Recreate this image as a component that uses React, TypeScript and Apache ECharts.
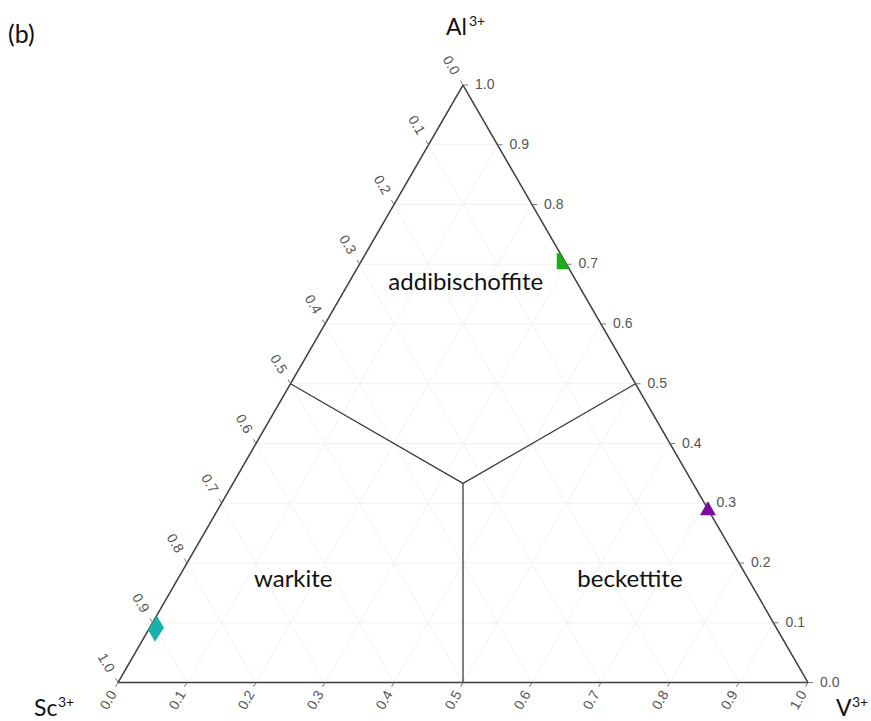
import React, { useEffect, useRef } from "react";
import * as echarts from "echarts";

// Ternary plot: fractions of Al3+ (top), V3+ (bottom right) and Sc3+ (bottom left) sum to 1.
const H = Math.sqrt(3) / 2;

const tickValues = [0, 0.1, 0.2, 0.3, 0.4, 0.5, 0.6, 0.7, 0.8, 0.9, 1.0];
const tickLabels = ["0.0", "0.1", "0.2", "0.3", "0.4", "0.5", "0.6", "0.7", "0.8", "0.9", "1.0"];
const gridValues = [0.1, 0.2, 0.3, 0.4, 0.5, 0.6, 0.7, 0.8, 0.9];

// Field boundaries: from the barycentre to the middle of each side (Al, V)
const fieldCentreAl = 1 / 3;
const fieldCentreV = 1 / 3;
const fieldSideAl = [0.5, 0.5, 0];
const fieldSideV = [0.5, 0, 0.5];

// Mineral fields and where their names sit (Al, V)
const fieldNames = ["addibischoffite", "warkite", "beckettite"];
const fieldLabelAl = [0.672, 0.176, 0.176];
const fieldLabelV = [0.168, 0.166, 0.654];

// Analysed compositions (Al, V; Sc is the remainder)
const sampleAl = [0.705, 0.29, 0.09];
const sampleV = [0.295, 0.71, 0.01];
const sampleSymbols = ["square", "triangle", "diamond"];
const sampleColors = ["#1aaf1a", "#7a0b9c", "#17b2ac"];

const toXY = (al: number, v: number) => [v + al / 2, al * H];

const LINE = "#3c3c3c";
const TICK_FONT = "14px 'Liberation Sans', Arial, sans-serif";
const TEXT_FONT_FAMILY = "Lato, 'Open Sans', sans-serif";

function clipPolygon(subject: number[][], clip: number[][]) {
  const cross = (a: number[], b: number[], p: number[]) =>
    (b[0] - a[0]) * (p[1] - a[1]) - (b[1] - a[1]) * (p[0] - a[0]);
  const cx = clip.reduce((s, p) => s + p[0], 0) / clip.length;
  const cy = clip.reduce((s, p) => s + p[1], 0) / clip.length;
  let out = subject;
  for (let i = 0; i < clip.length; i++) {
    const a = clip[i];
    const b = clip[(i + 1) % clip.length];
    const sgn = Math.sign(cross(a, b, [cx, cy]));
    const inside = (p: number[]) => cross(a, b, p) * sgn >= 0;
    const input = out;
    out = [];
    for (let j = 0; j < input.length; j++) {
      const p = input[j];
      const q = input[(j + 1) % input.length];
      const pin = inside(p);
      const qin = inside(q);
      if (pin) out.push(p);
      if (pin !== qin) {
        const dp = cross(a, b, p);
        const dq = cross(a, b, q);
        const t = dp / (dp - dq);
        out.push([p[0] + t * (q[0] - p[0]), p[1] + t * (q[1] - p[1])]);
      }
    }
  }
  return out;
}

function plainText(text: string, x: number, y: number, size: number, align = "left") {
  return {
    type: "text",
    x,
    y,
    style: {
      text,
      font: `${size}px ${TEXT_FONT_FAMILY}`,
      fill: "#111",
      align,
      verticalAlign: "middle",
      textAlign: align,
      textVerticalAlign: "middle",
    },
  };
}

function buildOption() {
  const gridLines: number[][] = [];
  gridValues.forEach((k) => {
    // constant Al
    gridLines.push([...toXY(k, 0), ...toXY(k, 1 - k)]);
    // constant V
    gridLines.push([...toXY(0, k), ...toXY(1 - k, k)]);
    // constant Sc
    gridLines.push([...toXY(0, 1 - k), ...toXY(1 - k, 0)]);
  });

  const edgeLines = [
    [...toXY(0, 0), ...toXY(0, 1)],
    [...toXY(0, 1), ...toXY(1, 0)],
    [...toXY(1, 0), ...toXY(0, 0)],
  ];

  const fieldLines = fieldSideAl.map((al, i) => [
    ...toXY(fieldCentreAl, fieldCentreV),
    ...toXY(al, fieldSideV[i]),
  ]);

  // axis 0: Al on the right side, 1: Sc on the left side, 2: V on the base
  const ticks: number[][] = [];
  tickValues.forEach((k, i) => {
    ticks.push([...toXY(k, 1 - k), 0, i]);
    ticks.push([...toXY(1 - k, 0), 1, i]);
    ticks.push([...toXY(0, k), 2, i]);
  });

  const fieldLabels = fieldNames.map((n, i) => [...toXY(fieldLabelAl[i], fieldLabelV[i]), i]);
  const samples = sampleAl.map((al, i) => [...toXY(al, sampleV[i]), i]);

  const lineRenderer = (color: string, width: number) => (params: any, api: any) => {
    const p1 = api.coord([api.value(0), api.value(1)]);
    const p2 = api.coord([api.value(2), api.value(3)]);
    return {
      type: "line",
      shape: { x1: p1[0], y1: p1[1], x2: p2[0], y2: p2[1] },
      style: { stroke: color, lineWidth: width, fill: null },
    };
  };

  const lineSeries = (name: string, data: number[][], color: string, width: number, z: number) => ({
    type: "custom",
    name,
    coordinateSystem: "cartesian2d",
    data,
    encode: { x: [0, 2], y: [1, 3] },
    renderItem: lineRenderer(color, width),
    clip: false,
    silent: true,
    z,
  });

  const tickDirs = [
    [1, 0],
    [-0.5, -H],
    [-0.5, H],
  ];

  return {
    animation: false,
    backgroundColor: "#ffffff",
    grid: { left: 118, top: 85, width: 690, height: 690 * H },
    xAxis: { type: "value", min: 0, max: 1, show: false },
    yAxis: { type: "value", min: 0, max: H, show: false },
    graphic: [
      plainText("(b)", 8, 33, 25),
      plainText("Al", 446, 26, 23),
      plainText("3+", 469, 20, 14),
      plainText("Sc", 34, 707, 23),
      plainText("3+", 58, 701, 14),
      plainText("V", 836, 707, 23),
      plainText("3+", 852, 701, 14),
    ],
    series: [
      lineSeries("grid", gridLines, "#f2f2f2", 1, 1),
      lineSeries("fields", fieldLines, LINE, 1.3, 3),
      lineSeries("edges", edgeLines, LINE, 1.5, 4),
      {
        type: "custom",
        name: "ticks",
        coordinateSystem: "cartesian2d",
        data: ticks,
        encode: { x: 0, y: 1 },
        clip: false,
        silent: true,
        z: 5,
        renderItem: (params: any, api: any) => {
          const p = api.coord([api.value(0), api.value(1)]);
          const axis = api.value(2);
          const idx = api.value(3);
          const d = tickDirs[axis];
          const text = tickLabels[idx];
          let label: any;
          if (axis === 0) {
            label = {
              type: "text",
              x: p[0] + 12,
              y: p[1] - 1,
              style: {
                text,
                font: TICK_FONT,
                fill: "#555",
                align: "left",
                verticalAlign: "middle",
                textAlign: "left",
                textVerticalAlign: "middle",
              },
            };
          } else {
            const dist = axis === 1 ? 23 : 20;
            label = {
              type: "text",
              x: p[0] + d[0] * dist,
              y: p[1] + d[1] * dist,
              rotation: axis === 1 ? -Math.PI / 3 : Math.PI / 3,
              style: {
                text,
                font: TICK_FONT,
                fill: "#555",
                align: "center",
                verticalAlign: "middle",
                textAlign: "center",
                textVerticalAlign: "middle",
              },
            };
          }
          return {
            type: "group",
            children: [
              {
                type: "line",
                shape: { x1: p[0], y1: p[1], x2: p[0] + d[0] * 5, y2: p[1] + d[1] * 5 },
                style: { stroke: "#777", lineWidth: 1 },
              },
              label,
            ],
          };
        },
      },
      {
        type: "custom",
        name: "fieldNames",
        coordinateSystem: "cartesian2d",
        data: fieldLabels,
        encode: { x: 0, y: 1 },
        clip: false,
        silent: true,
        z: 6,
        renderItem: (params: any, api: any) => {
          const p = api.coord([api.value(0), api.value(1)]);
          return plainText(fieldNames[api.value(2)], p[0], p[1], 24, "center");
        },
      },
      {
        type: "custom",
        name: "samples",
        coordinateSystem: "cartesian2d",
        data: samples,
        encode: { x: 0, y: 1 },
        clip: false,
        silent: true,
        z: 7,
        renderItem: (params: any, api: any) => {
          const c = api.coord([api.value(0), api.value(1)]);
          const i = api.value(2);
          const sym = sampleSymbols[i];
          let pts: number[][];
          if (sym === "square") {
            const s = 8;
            const sq = [
              [c[0] - s, c[1] - s],
              [c[0] + s, c[1] - s],
              [c[0] + s, c[1] + s],
              [c[0] - s, c[1] + s],
            ];
            // the square is cut by the side of the diagram
            const tri = [api.coord([0, 0]), api.coord([1, 0]), api.coord([0.5, H])];
            pts = clipPolygon(sq, tri);
          } else if (sym === "triangle") {
            pts = [
              [c[0], c[1] - 8],
              [c[0] + 8, c[1] + 6],
              [c[0] - 8, c[1] + 6],
            ];
          } else {
            pts = [
              [c[0] + 1, c[1] - 13],
              [c[0] + 8, c[1] - 1],
              [c[0] - 1, c[1] + 13],
              [c[0] - 8, c[1] + 1],
            ];
          }
          return {
            type: "polygon",
            shape: { points: pts },
            style: { fill: sampleColors[i], stroke: null },
          };
        },
      },
    ],
  };
}

export default function App() {
  const ref = useRef<HTMLDivElement>(null);
  useEffect(() => {
    if (!ref.current) return;
    const chart = echarts.init(ref.current, null, { renderer: "svg" });
    chart.setOption(buildOption() as any);
    return () => chart.dispose();
  }, []);
  return (
    <div
      ref={ref}
      style={{ position: "fixed", left: 0, top: 0, width: 871, height: 721, background: "#fff" }}
    />
  );
}
